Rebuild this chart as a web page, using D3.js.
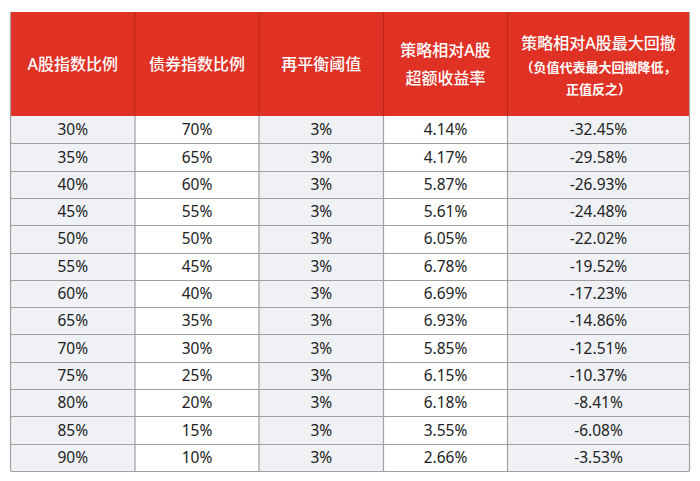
<!DOCTYPE html>
<html>
<head>
<meta charset="utf-8">
<script src="https://cdn.jsdelivr.net/npm/d3@7"></script>
<style>
  body { margin: 0; background: #fff; }
  svg { display: block; font-family: "Noto Sans", "Noto Sans CJK SC", sans-serif; }
</style>
</head>
<body>
<svg id="chart"></svg>
<script>
// data
var headers = [
  ["A股指数比例"],
  ["债券指数比例"],
  ["再平衡阈值"],
  ["策略相对A股", "超额收益率"],
  ["策略相对A股最大回撤", "（负值代表最大回撤降低，", "正值反之）"]
];
var stockPct = ["30%","35%","40%","45%","50%","55%","60%","65%","70%","75%","80%","85%","90%"];
var bondPct = ["70%","65%","60%","55%","50%","45%","40%","35%","30%","25%","20%","15%","10%"];
var threshold = ["3%","3%","3%","3%","3%","3%","3%","3%","3%","3%","3%","3%","3%"];
var excessReturn = ["4.14%","4.17%","5.87%","5.61%","6.05%","6.78%","6.69%","6.93%","5.85%","6.15%","6.18%","3.55%","2.66%"];
var maxDrawdown = ["-32.45%","-29.58%","-26.93%","-24.48%","-22.02%","-19.52%","-17.23%","-14.86%","-12.51%","-10.37%","-8.41%","-6.08%","-3.53%"];

var columns = [stockPct, bondPct, threshold, excessReturn, maxDrawdown];
var colWidths = [124.5, 124, 124.5, 124, 182];

var W = 700, H = 481;
var m = {l: 10.5, t: 12, r: 10}
var headH = 104;
var bodyTop = m.t + headH, bodyBottom = 471;

var svg = d3.select("#chart").attr("width", W).attr("height", H);

// column edges
var edges = [m.l];
colWidths.forEach(function(w){ edges.push(edges[edges.length-1] + w) });

var y = d3.scaleBand()
  .domain(d3.range(stockPct.length))
  .range([bodyTop, bodyBottom]);

var red = "#e03125";
var shade = ["#eff1f5", "#ffffff", "#eff1f5", "#ffffff", "#eff1f5"];

// header
svg.append("rect")
  .attr("x", edges[0]).attr("y", m.t)
  .attr("width", edges[5] - edges[0]).attr("height", headH)
  .attr("fill", red);

var hg = svg.selectAll(".head")
  .data(headers)
  .join("g")
  .attr("class", "head");

hg.each(function(lines, i){
  var cx = (edges[i] + edges[i+1]) / 2;
  var g = d3.select(this);
  var cy = m.t + headH / 2;
  if (lines.length == 1) {
    g.append("text").attr("x", cx).attr("y", cy).attr("dy", "0.36em")
      .attr("text-anchor", "middle").attr("fill", "#fff")
      .style("font-size", "16px").style("font-weight", 500).text(lines[0]);
  } else if (lines.length == 2) {
    g.selectAll("text").data(lines).join("text")
      .attr("x", cx).attr("y", function(d, j){ return cy - 14 + j * 28 })
      .attr("dy", "0.36em")
      .attr("text-anchor", "middle").attr("fill", "#fff")
      .style("font-size", "16px").style("font-weight", 500).text(function(d){ return d });
  } else {
    var ys = [cy - 21, cy + 3, cy + 25];
    g.selectAll("text").data(lines).join("text")
      .attr("x", cx).attr("y", function(d, j){ return ys[j] })
      .attr("dy", "0.36em")
      .attr("text-anchor", "middle").attr("fill", "#fff")
      .style("font-size", function(d, j){ return j == 0 ? "16px" : "13px" })
      .style("font-weight", function(d, j){ return j == 0 ? 500 : 700 })
      .text(function(d){ return d });
  }
});

// body cells
columns.forEach(function(col, i){
  svg.append("rect")
    .attr("x", edges[i]).attr("y", bodyTop)
    .attr("width", colWidths[i]).attr("height", bodyBottom - bodyTop)
    .attr("fill", shade[i]);

  svg.selectAll(".c" + i)
    .data(col)
    .join("text")
    .attr("class", "c" + i)
    .attr("x", (edges[i] + edges[i+1]) / 2)
    .attr("y", function(d, j){ return y(j) + y.bandwidth() / 2 })
    .attr("dy", "0.36em")
    .attr("text-anchor", "middle")
    .attr("fill", "#222")
    .style("font-size", "15.5px")
    .text(function(d){ return d });
});

// grid lines
svg.selectAll(".hline")
  .data(d3.range(1, stockPct.length + 1))
  .join("line")
  .attr("class", "hline")
  .attr("x1", edges[0]).attr("x2", edges[5])
  .attr("y1", function(d){ return Math.round(y(d - 1) + y.bandwidth()) + 0.5 })
  .attr("y2", function(d){ return Math.round(y(d - 1) + y.bandwidth()) + 0.5 })
  .attr("stroke", "#a0a0a0").attr("stroke-width", 1.2);

svg.selectAll(".vline")
  .data(edges)
  .join("line")
  .attr("class", "vline")
  .attr("x1", function(d){ return d }).attr("x2", function(d){ return d })
  .attr("y1", function(d, i){ return (i == 0 || i == 5) ? m.t : bodyTop })
  .attr("y2", bodyBottom)
  .attr("stroke", "#a0a0a0").attr("stroke-width", 1.2);

// thin dark separators inside the red header
svg.selectAll(".hsep")
  .data(edges.slice(1, 5))
  .join("line")
  .attr("class", "hsep")
  .attr("x1", function(d){ return d }).attr("x2", function(d){ return d })
  .attr("y1", m.t).attr("y2", bodyTop)
  .attr("stroke", "#b8241b").attr("stroke-width", 0.8);
</script>
</body>
</html>
